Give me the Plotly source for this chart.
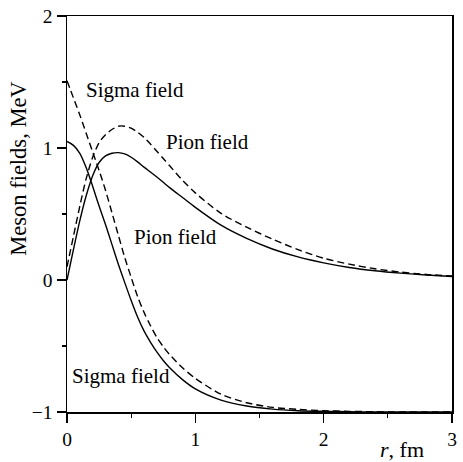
import plotly.graph_objects as go

# r values (fm)
r = [0.0, 0.05, 0.1, 0.15, 0.2, 0.25, 0.3, 0.35, 0.4, 0.45, 0.5, 0.55, 0.6, 0.65, 0.7, 0.75,
     0.8, 0.9, 1.0, 1.2, 1.4, 1.6, 1.8, 2.0, 2.2, 2.4, 2.6, 2.8, 3.0]

sigma_solid = [1.05, 1.02, 0.96, 0.85, 0.71, 0.56, 0.42, 0.27, 0.12, -0.02, -0.155, -0.28, -0.385,
               -0.47, -0.545, -0.61, -0.665, -0.755, -0.825, -0.91, -0.955, -0.978, -0.99, -0.995,
               -0.998, -1.0, -1.0, -1.0, -1.0]
sigma_dashed = [1.51, 1.38, 1.25, 1.11, 0.97, 0.83, 0.68, 0.51, 0.34, 0.17, 0.02, -0.125, -0.245,
                -0.345, -0.435, -0.505, -0.565, -0.665, -0.745, -0.865, -0.93, -0.965, -0.98,
                -0.99, -0.995, -0.998, -1.0, -1.0, -1.0]
pion_solid = [0.0, 0.23, 0.45, 0.64, 0.79, 0.89, 0.94, 0.96, 0.965, 0.955, 0.93, 0.895, 0.855,
              0.818, 0.78, 0.74, 0.70, 0.625, 0.55, 0.415, 0.315, 0.235, 0.175, 0.13, 0.095,
              0.07, 0.052, 0.038, 0.027]
pion_dashed = [0.1, 0.33, 0.56, 0.77, 0.93, 1.04, 1.10, 1.14, 1.165, 1.165, 1.15, 1.12, 1.08,
               1.03, 0.975, 0.92, 0.865, 0.755, 0.66, 0.505, 0.40, 0.31, 0.23, 0.165, 0.12,
               0.085, 0.06, 0.042, 0.03]

x_ticks = [0, 1, 2, 3]
y_ticks = [-1, 0, 1, 2]

labels = ["Sigma field", "Pion field", "Pion field", "Sigma field"]
label_x = [0.13, 0.754, 0.508, 0.023]
label_y = [1.436, 1.045, 0.323, -0.73]

FONT = "Liberation Serif"

fig = go.Figure()
for ys, dash in [(sigma_solid, "solid"), (sigma_dashed, "7px,4px"),
                 (pion_solid, "solid"), (pion_dashed, "7px,4px")]:
    fig.add_trace(go.Scatter(x=r, y=ys, mode="lines",
                             line=dict(color="black", width=1.4, dash=dash, shape="spline",
                                       smoothing=0.8),
                             showlegend=False, hoverinfo="skip"))

for t, lx, ly in zip(labels, label_x, label_y):
    fig.add_annotation(x=lx, y=ly, xref="x", yref="y", text=t, showarrow=False,
                       xanchor="left", yanchor="middle",
                       font=dict(family=FONT, size=21, color="black"))

fig.add_annotation(x=2.42, y=-50 / 399, xref="x", yref="paper", text="<i>r</i>, fm",
                   showarrow=False, xanchor="left", yanchor="bottom", yshift=-2,
                   font=dict(family=FONT, size=22, color="black"))

fig.add_annotation(x=-0.125, y=0.614, xref="paper", yref="paper", text="Meson fields, MeV",
                   showarrow=False, textangle=-90, xanchor="center", yanchor="middle",
                   font=dict(family=FONT, size=22.5, color="black"))

axis_common = dict(showgrid=False, zeroline=False, showline=True, linecolor="black",
                   linewidth=1.5, mirror=True, ticks="outside", ticklen=9, tickwidth=1.3,
                   tickcolor="black", ticklabeloverflow="allow",
                   tickfont=dict(family=FONT, size=19.5, color="black"),
                   minor=dict(dtick=0.5, ticks="outside", ticklen=4, tickwidth=1.3,
                              tickcolor="black", showgrid=False))

fig.update_xaxes(range=[0, 3], tickvals=x_ticks, ticktext=[str(v) for v in x_ticks],
                 **axis_common)
fig.update_yaxes(range=[-1, 2], tickvals=y_ticks,
                 ticktext=[("\u2212" + str(-v)) if v < 0 else str(v) for v in y_ticks],
                 **axis_common)

fig.update_layout(width=463, height=462, margin=dict(l=67, r=6, t=13, b=50),
                  plot_bgcolor="white", paper_bgcolor="white",
                  font=dict(family=FONT, size=20, color="black"))

# remove the browser's default 8px page margin so the figure fills the window
fig.write_html("out.html",
               config={"displayModeBar": False, "staticPlot": True},
               post_script="document.body.style.margin='0';"
                           "document.body.style.overflow='hidden';")
